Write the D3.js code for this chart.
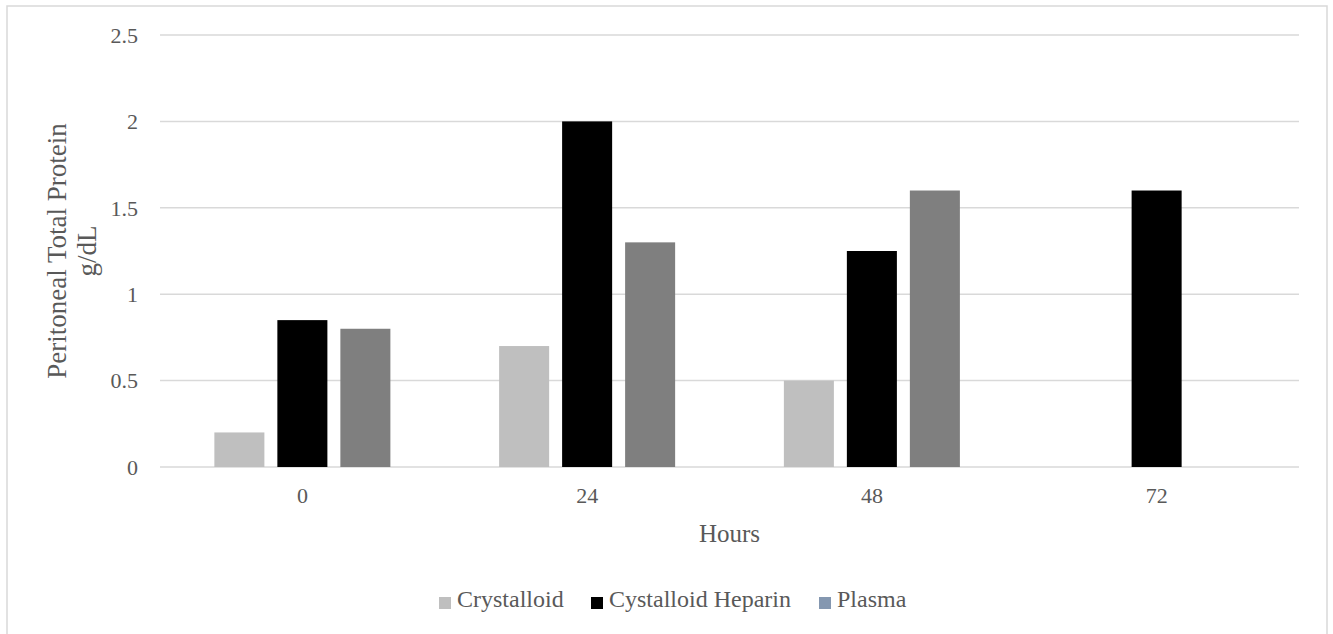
<!DOCTYPE html>
<html lang="en">
<head>
    <meta charset="UTF-8">
    <title>Peritoneal Total Protein</title>
    <style>
        body { margin: 0; background: #fff; }
        svg text { font-family: "Liberation Serif", "Times New Roman", serif; fill: #595959; }
        .grid line { stroke: #d9d9d9; stroke-width: 1.5px; }
        .tick-label { font-size: 22px; }
        .axis-title { font-size: 25px; }
        .y-title { font-size: 27px; }
        .legend text { font-size: 24px; }
    </style>
</head>
<body>
    <svg id="chart" width="1333" height="634"></svg>
    <script src="https://d3js.org/d3.v7.min.js"></script>
    <script>
        // data
        const hours = ["0", "24", "48", "72"];
        const series = ["Crystalloid", "Cystalloid Heparin", "Plasma"];
        const crystalloid = [0.2, 0.7, 0.5, null];
        const crystalloidHeparin = [0.85, 2.0, 1.25, 1.6];
        const plasma = [0.8, 1.3, 1.6, null];
        const yTicks = [0, 0.5, 1, 1.5, 2, 2.5];

        const barColors = ["#bfbfbf", "#000000", "#7f7f7f"];
        const legendColors = ["#bfbfbf", "#000000", "#8497b0"];

        const values = [crystalloid, crystalloidHeparin, plasma];
        const rows = hours.map((h, i) => ({
            hour: h,
            bars: series.map((s, j) => ({ name: s, idx: j, value: values[j][i] }))
        }));

        const svg = d3.select("#chart");

        // chart frame
        svg.append("rect")
            .attr("x", 7).attr("y", 6)
            .attr("width", 1320).attr("height", 640)
            .attr("fill", "none")
            .attr("stroke", "#d9d9d9")
            .attr("stroke-width", 1.5);

        const plotLeft = 160, plotRight = 1299, plotTop = 35, plotBottom = 467;

        const x0 = d3.scaleBand().domain(hours).range([plotLeft, plotRight]);
        const x1 = d3.scaleBand().domain(series)
            .range([0, x0.bandwidth()])
            .paddingInner(0.206)
            .paddingOuter(0.863);
        const y = d3.scaleLinear().domain([0, 2.5]).range([plotBottom, plotTop]);

        // gridlines
        svg.append("g").attr("class", "grid")
            .selectAll("line")
            .data(yTicks)
            .enter().append("line")
            .attr("x1", plotLeft).attr("x2", plotRight)
            .attr("y1", d => y(d)).attr("y2", d => y(d));

        // y tick labels
        svg.append("g")
            .selectAll("text")
            .data(yTicks)
            .enter().append("text")
            .attr("class", "tick-label")
            .attr("x", 138)
            .attr("y", d => y(d))
            .attr("dy", "0.35em")
            .attr("text-anchor", "end")
            .text(d => d);

        // bars
        const groups = svg.append("g")
            .selectAll("g")
            .data(rows)
            .enter().append("g")
            .attr("transform", d => `translate(${x0(d.hour)},0)`);

        groups.selectAll("rect")
            .data(d => d.bars.filter(b => b.value !== null))
            .enter().append("rect")
            .attr("x", d => x1(d.name))
            .attr("width", x1.bandwidth())
            .attr("y", d => y(d.value))
            .attr("height", d => y(0) - y(d.value))
            .attr("fill", d => barColors[d.idx]);

        // x tick labels
        svg.append("g")
            .selectAll("text")
            .data(hours)
            .enter().append("text")
            .attr("class", "tick-label")
            .attr("x", d => x0(d) + x0.bandwidth() / 2)
            .attr("y", 503)
            .attr("text-anchor", "middle")
            .text(d => d);

        // axis titles
        svg.append("text")
            .attr("class", "axis-title")
            .attr("x", (plotLeft + plotRight) / 2)
            .attr("y", 542)
            .attr("text-anchor", "middle")
            .text("Hours");

        const yTitle = svg.append("text")
            .attr("class", "y-title")
            .attr("transform", `translate(66,${(plotTop + plotBottom) / 2}) rotate(-90)`)
            .attr("text-anchor", "middle");
        yTitle.append("tspan").attr("x", 0).attr("y", 0).text("Peritoneal Total Protein");
        yTitle.append("tspan").attr("x", 0).attr("y", 30).text("g/dL");

        // legend
        const legendX = [439, 591, 819];
        const legend = svg.append("g").attr("class", "legend")
            .selectAll("g")
            .data(series)
            .enter().append("g")
            .attr("transform", (d, i) => `translate(${legendX[i]},597)`);
        legend.append("rect")
            .attr("width", 12).attr("height", 12)
            .attr("fill", (d, i) => legendColors[i]);
        legend.append("text")
            .attr("x", 18).attr("y", 10)
            .text(d => d);
    </script>
</body>
</html>
